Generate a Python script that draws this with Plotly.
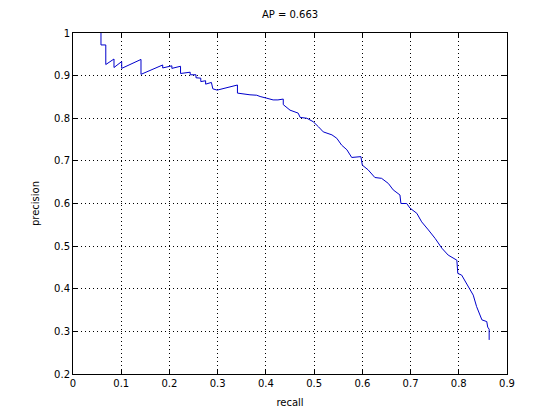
import plotly.graph_objects as go

recall = [0.058, 0.058, 0.068, 0.068, 0.085, 0.085, 0.101, 0.101, 0.141, 0.141,
          0.186, 0.186, 0.205, 0.205, 0.223, 0.223, 0.243, 0.243, 0.255, 0.255,
          0.265, 0.265, 0.275, 0.275, 0.287, 0.290, 0.299, 0.320, 0.341, 0.341,
          0.350, 0.367, 0.381, 0.388, 0.402, 0.415, 0.425, 0.436, 0.436, 0.450,
          0.467, 0.471, 0.485, 0.498, 0.509, 0.519, 0.537, 0.547, 0.557, 0.568,
          0.578, 0.597, 0.600, 0.612, 0.626, 0.640, 0.654, 0.664, 0.678, 0.680,
          0.692, 0.699, 0.713, 0.723, 0.737, 0.751, 0.765, 0.778, 0.796, 0.798,
          0.806, 0.816, 0.823, 0.830, 0.837, 0.848, 0.858, 0.860, 0.863, 0.863]
precision = [1.000, 0.972, 0.972, 0.926, 0.939, 0.919, 0.933, 0.917, 0.938, 0.903,
             0.925, 0.918, 0.923, 0.917, 0.922, 0.905, 0.908, 0.902, 0.902, 0.895,
             0.894, 0.886, 0.888, 0.880, 0.884, 0.869, 0.866, 0.872, 0.878, 0.859,
             0.857, 0.855, 0.854, 0.851, 0.847, 0.843, 0.843, 0.845, 0.832, 0.819,
             0.812, 0.802, 0.800, 0.792, 0.780, 0.768, 0.761, 0.753, 0.737, 0.726,
             0.708, 0.710, 0.690, 0.679, 0.661, 0.659, 0.647, 0.632, 0.620, 0.600,
             0.600, 0.589, 0.577, 0.557, 0.538, 0.518, 0.495, 0.479, 0.467, 0.436,
             0.432, 0.413, 0.397, 0.385, 0.358, 0.327, 0.323, 0.310, 0.305, 0.280]

title_text = "AP = 0.663"
x_label = "recall"
y_label = "precision"

W, H = 552, 412

fig = go.Figure()
fig.add_trace(go.Scatter(x=recall, y=precision, mode="lines",
                         line=dict(color="#0000cc", width=1), showlegend=False))

axis_common = dict(
    showline=True, linecolor="black", linewidth=1, mirror="ticks",
    ticks="inside", ticklen=5, tickcolor="black",
    showgrid=True, gridcolor="black", gridwidth=1, griddash="1px,3px",
    zeroline=False, tickfont=dict(size=10, color="black"), automargin=False,
)

fig.update_layout(
    width=W, height=H,
    margin=dict(l=65, r=53, t=25, b=46),
    paper_bgcolor="white", plot_bgcolor="white",
    font=dict(family="DejaVu Sans", size=10, color="black"),
    title=dict(text=title_text, x=282 / W, xanchor="center", y=1 - 6 / H, yanchor="middle",
               font=dict(size=10, color="black"), automargin=False),
    xaxis=dict(range=[0, 0.9], dtick=0.1, tick0=0,
               title=dict(text=x_label, standoff=10, font=dict(size=10)), **axis_common),
    yaxis=dict(range=[0.2, 1.0], dtick=0.1, tick0=0.2,
               title=dict(text=y_label, standoff=12, font=dict(size=10)), **axis_common),
)

fig.write_html("out.html")
